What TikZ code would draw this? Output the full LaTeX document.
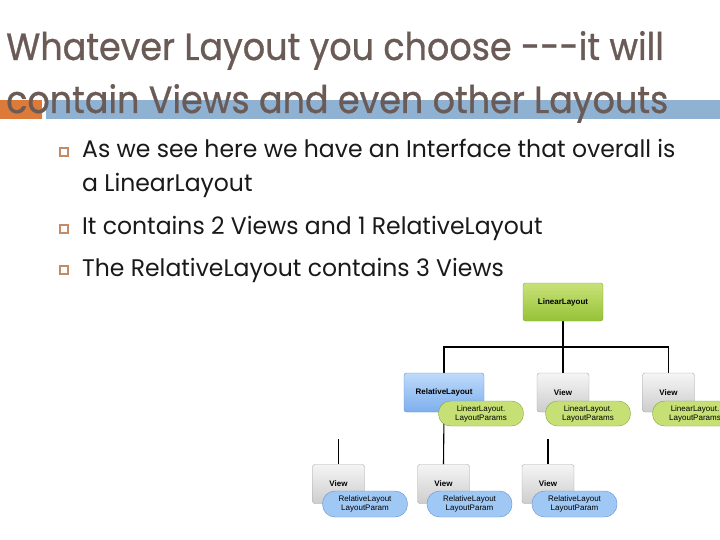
\documentclass[tikz,border=0pt]{standalone}
\usepackage{fontspec}
\setmainfont{Poppins}
\newfontfamily\titlefont[FakeStretch=0.92,FakeBold=0.8]{Poppins}
\newfontfamily\bodyfont[FakeStretch=0.98]{Poppins}
\newfontfamily\diafont{Liberation Sans}
\usetikzlibrary{backgrounds}
\definecolor{titlecol}{RGB}{107,91,86}
\definecolor{barblue}{RGB}{143,177,210}
\definecolor{barorange}{RGB}{220,122,58}
\definecolor{bulletcol}{RGB}{196,140,100}
\definecolor{bodycol}{RGB}{25,25,25}
\definecolor{gtop}{RGB}{200,226,120}
\definecolor{gbot}{RGB}{150,194,55}
\definecolor{gline}{RGB}{130,165,60}
\definecolor{btop}{RGB}{190,218,250}
\definecolor{bbot}{RGB}{125,175,238}
\definecolor{bline}{RGB}{100,145,205}
\definecolor{vtop}{RGB}{245,245,245}
\definecolor{vbot}{RGB}{205,205,205}
\definecolor{vline}{RGB}{165,165,165}
\definecolor{pgreen}{RGB}{198,224,118}
\definecolor{pblue}{RGB}{160,200,244}
\tikzset{
  titletext/.style={anchor=base west, inner sep=0pt, text=titlecol, font=\titlefont\fontsize{38}{38}\selectfont},
  bodytext/.style={anchor=base west, inner sep=0pt, text=bodycol, font=\bodyfont\fontsize{24}{24}\selectfont},
  bulletbox/.style={draw=bulletcol, line width=1.2pt, fill=white, minimum size=8pt, inner sep=0pt},
  llbox/.style={draw=gline, rounded corners=2.5pt, top color=gtop, bottom color=gbot, minimum width=80pt, minimum height=38pt, font=\diafont\bfseries\fontsize{8}{9}\selectfont, inner sep=0pt},
  rlbox/.style={draw=bline, rounded corners=2.5pt, top color=btop, bottom color=bbot, minimum width=80pt, minimum height=39pt, font=\diafont\bfseries\fontsize{8}{9}\selectfont, inner sep=0pt},
  viewbox/.style={draw=vline, rounded corners=2.5pt, top color=vtop, bottom color=vbot, minimum width=52pt, minimum height=39pt, font=\diafont\bfseries\fontsize{8}{9}\selectfont, inner sep=0pt},
  gpill/.style={draw=gline, fill=pgreen, rounded corners=12pt, minimum width=85pt, minimum height=25pt, align=center, font=\diafont\fontsize{8}{9}\selectfont, inner sep=0pt},
  bpill/.style={draw=bline, fill=pblue, rounded corners=12.5pt, minimum width=85pt, minimum height=26pt, align=center, font=\diafont\fontsize{8}{9}\selectfont, inner sep=0pt},
  conn/.style={draw=black, line width=1.1pt}
}
\begin{document}
\begin{tikzpicture}[x=1pt,y=-1pt]
\useasboundingbox (0,0) rectangle (720,540);
% title bar
\fill[barorange] (0,100) rectangle (42,119);
\fill[barblue] (46,100) rectangle (720,119);
\node[titletext] (t1) at (6,60) {Whatever Layout you choose ---it will};
\node[titletext] (t2) at (6,113) {contain Views and even other Layouts};
% bullets
\node[bulletbox] (b1) at (64,152) {};
\node[bodytext] (l1) at (82,158) {As we see here we have an Interface that overall is};
\node[bodytext] (l1b) at (82,192) {a LinearLayout};
\node[bulletbox] (b2) at (64,229) {};
\node[bodytext] (l2) at (82,235) {It contains 2 Views and 1 RelativeLayout};
\node[bulletbox] (b3) at (64,270) {};
\node[bodytext] (l3) at (82,276) {The RelativeLayout contains 3 Views};
% diagram
\node[llbox] (LL) at (563,302) {LinearLayout};
\node[rlbox] (RL) at (444,392.5) {RelativeLayout};
\node[viewbox] (V1) at (563,392.5) {View};
\node[viewbox] (V2) at (668.5,392.5) {View};
\node[gpill] (P1) at (481,413.5) {LinearLayout.\\LayoutParams};
\node[gpill] (P2) at (588,413.5) {LinearLayout.\\LayoutParams};
\node[gpill] (P3) at (695,413.5) {LinearLayout.\\LayoutParams};
\node[viewbox] (B1) at (338.5,484) {View};
\node[viewbox] (B2) at (443.5,484) {View};
\node[viewbox] (B3) at (548,484) {View};
\node[bpill] (Q1) at (365,504) {RelativeLayout\\LayoutParam};
\node[bpill] (Q2) at (469.5,504) {RelativeLayout\\LayoutParam};
\node[bpill] (Q3) at (574.5,504) {RelativeLayout\\LayoutParam};
\coordinate (bus) at (563,347);
\coordinate (c1) at (338.5,439);
\coordinate (c3) at (548,439);
\begin{scope}[on background layer]
\draw[conn] (RL.north) |- (bus) -| (V2.north);
\draw[conn] (LL.south) -- (V1.north);
\draw[conn] (c1) -- (B1.north);
\draw[conn] (RL.south) -- (B2.north);
\draw[conn] (c3) -- (B3.north);
\end{scope}
\end{tikzpicture}
\end{document}
